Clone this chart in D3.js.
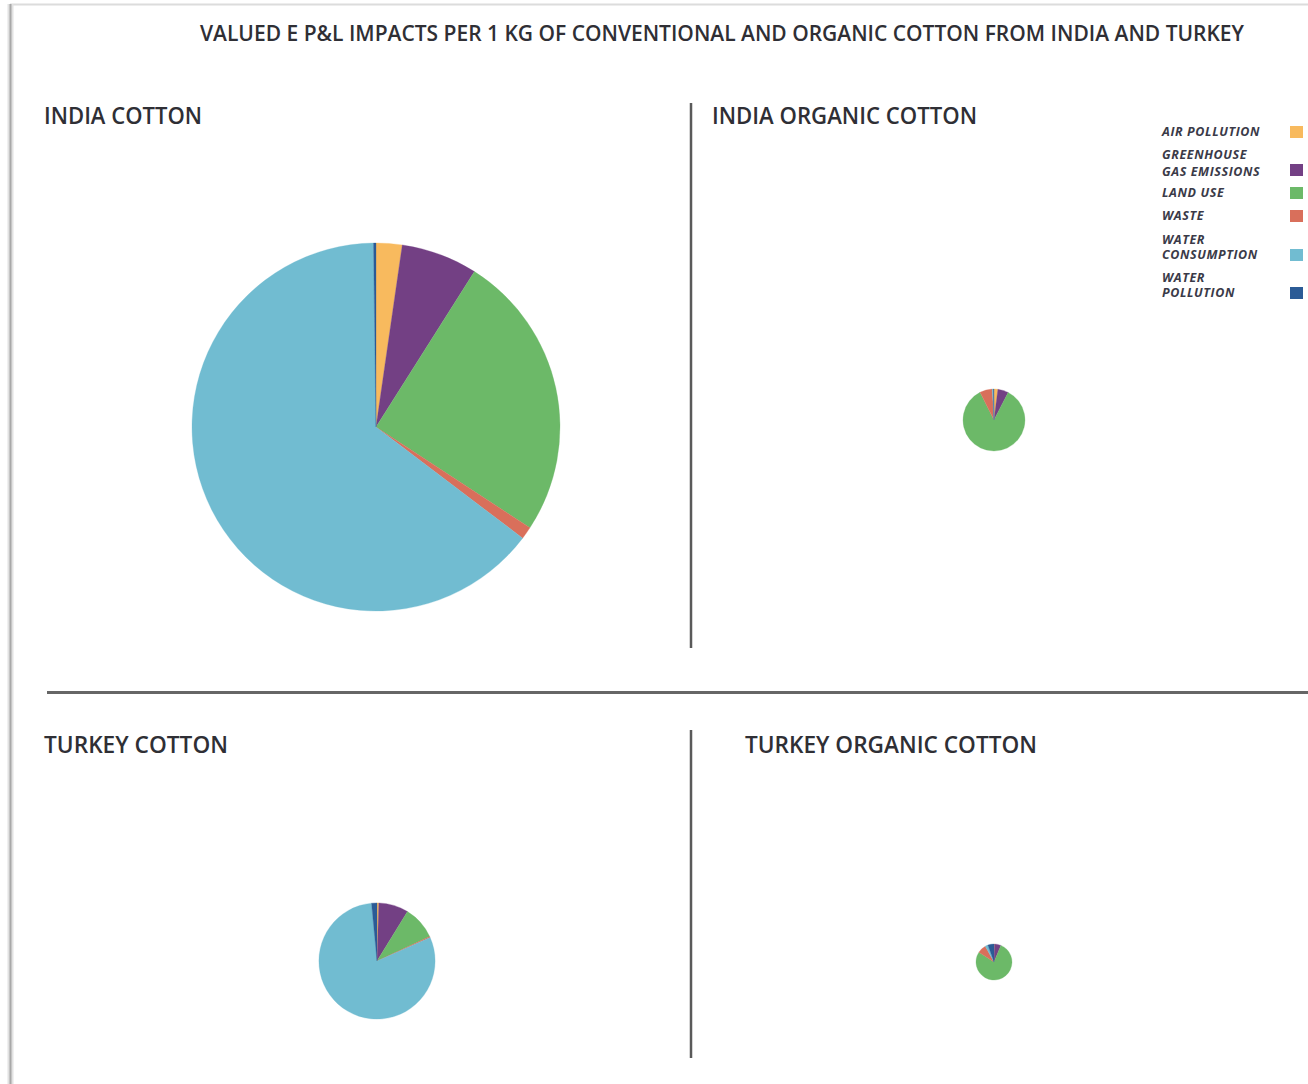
<!DOCTYPE html>
<html>
<head>
<meta charset="utf-8">
<script src="https://cdn.jsdelivr.net/npm/d3@7"></script>
<style>
  html, body { margin: 0; padding: 0; background: #fff; }
  svg { display: block; }
  text { font-family: "Open Sans", "Noto Sans", sans-serif; }
</style>
</head>
<body>
<svg id="chart" width="1308" height="1084"></svg>
<script>
// Impact categories, in drawing order (clockwise from 12 o'clock)
const categories = ["AIR POLLUTION", "GREENHOUSE GAS EMISSIONS", "LAND USE", "WASTE", "WATER CONSUMPTION", "WATER POLLUTION"];
const legendLines = [["AIR POLLUTION"], ["GREENHOUSE", "GAS EMISSIONS"], ["LAND USE"], ["WASTE"], ["WATER", "CONSUMPTION"], ["WATER", "POLLUTION"]];
const colors = ["#F8BA5E", "#734084", "#6CB968", "#D96F5B", "#71BCD1", "#2B5B96"];

// Valued impact per 1 kg of cotton (EUR), by category
const panels = ["INDIA COTTON", "INDIA ORGANIC COTTON", "TURKEY COTTON", "TURKEY ORGANIC COTTON"];
const indiaCotton        = [0.160, 0.470, 1.770, 0.077, 4.520, 0.015];
const indiaOrganicCotton = [0.0040, 0.0110, 0.1690, 0.0130, 0.0012, 0.0006];
const turkeyCotton       = [0.0035, 0.0580, 0.0650, 0.0020, 0.5600, 0.0105];
const turkeyOrganicCotton= [0.0003, 0.0039, 0.0523, 0.0052, 0.0017, 0.0037];
const panelValues = [indiaCotton, indiaOrganicCotton, turkeyCotton, turkeyOrganicCotton];

const title = "VALUED E P&L IMPACTS PER 1 KG OF CONVENTIONAL AND ORGANIC COTTON FROM INDIA AND TURKEY";

const svg = d3.select("#chart");

// page frame
svg.append("line").attr("x1", 10).attr("x2", 1308).attr("y1", 4.5).attr("y2", 4.5)
  .attr("stroke", "#dcdcdc").attr("stroke-width", 2);
svg.append("line").attr("x1", 10.5).attr("x2", 10.5).attr("y1", 4).attr("y2", 1084)
  .attr("stroke", "#e2e2e2").attr("stroke-width", 6);
svg.append("line").attr("x1", 10.5).attr("x2", 10.5).attr("y1", 4).attr("y2", 1084)
  .attr("stroke", "#a8a8a8").attr("stroke-width", 2);

// title
svg.append("text").attr("x", 200).attr("y", 41)
  .attr("textLength", 1044).attr("lengthAdjust", "spacingAndGlyphs")
  .attr("font-size", 22).attr("font-weight", 600).attr("fill", "#2f2f35")
  .text(title);

// dividers
const divider = "#5a5a5a";
svg.append("line").attr("x1", 691).attr("x2", 691).attr("y1", 103).attr("y2", 648)
  .attr("stroke", divider).attr("stroke-width", 2.5);
svg.append("line").attr("x1", 691).attr("x2", 691).attr("y1", 730).attr("y2", 1058)
  .attr("stroke", divider).attr("stroke-width", 2.5);
svg.append("line").attr("x1", 47).attr("x2", 1308).attr("y1", 692.5).attr("y2", 692.5)
  .attr("stroke", "#666").attr("stroke-width", 3);

// panel layout
const panelPos = [
  { tx: 44,  ty: 124, tw: 158, cx: 376, cy: 427 },
  { tx: 712, ty: 124, tw: 265, cx: 994, cy: 420 },
  { tx: 44,  ty: 753, tw: 184, cx: 377, cy: 961 },
  { tx: 745, ty: 753, tw: 292, cx: 994, cy: 962 }
];

// area-proportional radius from each pie's total
const totals = panelValues.map(v => d3.sum(v));
const rScale = d3.scaleSqrt().domain([0, d3.max(totals)]).range([0, 184]);

const pie = d3.pie().sort(null).value(d => d);
const arc = d3.arc().innerRadius(0);

panels.forEach((name, i) => {
  const p = panelPos[i];
  svg.append("text").attr("x", p.tx).attr("y", p.ty)
    .attr("textLength", p.tw).attr("lengthAdjust", "spacingAndGlyphs")
    .attr("font-size", 23).attr("font-weight", 600).attr("fill", "#2f2f35").text(name);

  const r = rScale(totals[i]);
  const g = svg.append("g").attr("transform", `translate(${p.cx},${p.cy})`);
  g.selectAll("path").data(pie(panelValues[i])).join("path")
    .attr("d", d => arc.outerRadius(r)(d))
    .attr("fill", (d, j) => colors[j])
    .attr("stroke", (d, j) => colors[j]).attr("stroke-width", 0.3);
});

// legend
const legendRows = [
  { ty: [136], sy: 132 },
  { ty: [159, 176], sy: 170 },
  { ty: [197], sy: 193 },
  { ty: [220], sy: 216 },
  { ty: [244, 259], sy: 255 },
  { ty: [282, 297], sy: 293 }
];
const legend = svg.append("g");
categories.forEach((c, i) => {
  const row = legendRows[i];
  legendLines[i].forEach((line, k) => {
    legend.append("text").attr("x", 1162).attr("y", row.ty[k])
      .attr("font-size", 12.5).attr("letter-spacing", 0.6)
      .attr("font-style", "italic").attr("font-weight", 700)
      .attr("fill", "#3a3a48").text(line);
  });
  legend.append("rect").attr("x", 1290).attr("y", row.sy - 6)
    .attr("width", 13).attr("height", 12).attr("fill", colors[i]);
});
</script>
</body>
</html>
